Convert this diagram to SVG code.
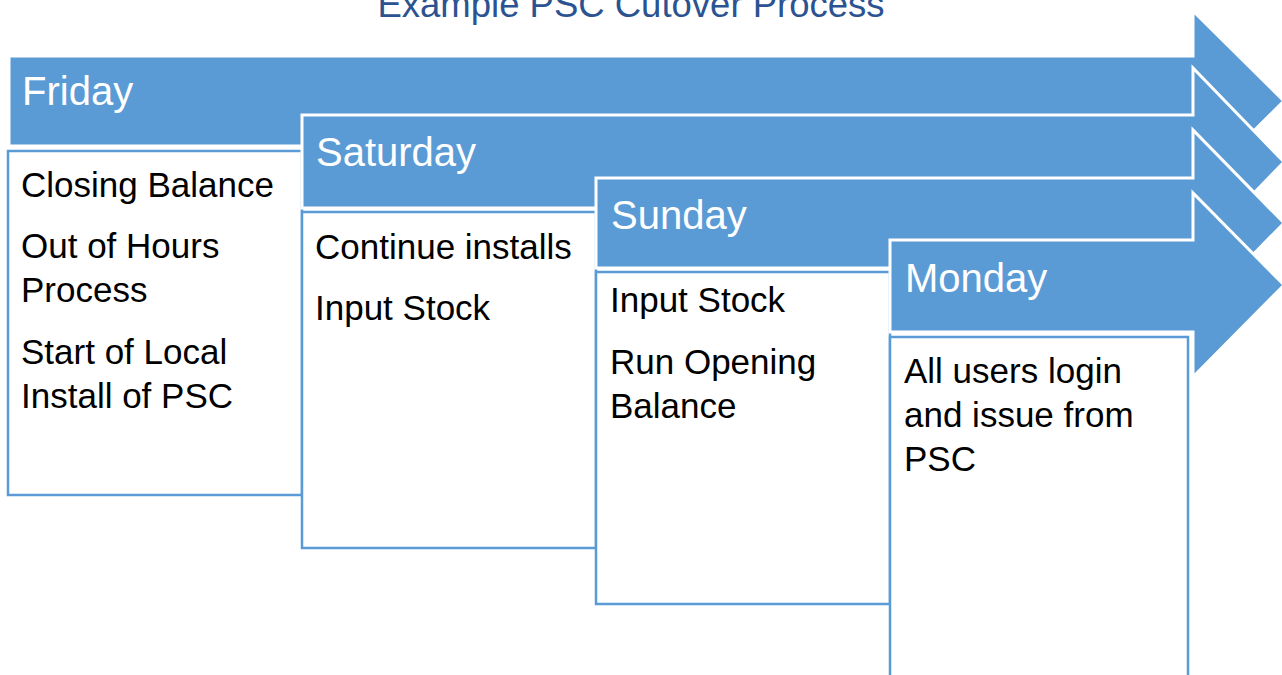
<svg xmlns="http://www.w3.org/2000/svg" width="1282" height="675" viewBox="0 0 1282 675">
  <style>
    .arrow { fill: #5B9BD5; stroke: #FFFFFF; stroke-width: 3; stroke-linejoin: miter; }
    .box { fill: #FFFFFF; stroke: #5B9BD5; stroke-width: 2.5; }
    .label { font-family: "Liberation Sans", Arial, sans-serif; font-size: 40px; fill: #FFFFFF; }
    .body { font-family: "Liberation Sans", Arial, sans-serif; font-size: 35px; fill: #000000; }
    .title { font-family: "Liberation Sans", Arial, sans-serif; font-size: 36.5px; fill: #2C5391; }
  </style>
  <rect width="1282" height="675" fill="#FFFFFF"/>
  <text class="title" x="631" y="17" text-anchor="middle">Example PSC Cutover Process</text>

  <g id="friday">
    <polygon class="arrow" points="9,56 1193,56 1193,11 1284,101 1193,191 1193,146 9,146"/>
    <text class="label" x="22" y="105">Friday</text>
    <rect class="box" x="8" y="151" width="294" height="344"/>
    <text class="body" x="21" y="197">Closing Balance</text>
    <text class="body" x="21" y="258">Out of Hours</text>
    <text class="body" x="21" y="302">Process</text>
    <text class="body" x="21" y="364">Start of Local</text>
    <text class="body" x="21" y="408">Install of PSC</text>
  </g>

  <g id="saturday">
    <polygon class="arrow" points="302,115 1193,115 1193,68 1284,162 1193,256 1193,208 302,208"/>
    <text class="label" x="316" y="166">Saturday</text>
    <rect class="box" x="302" y="212" width="294" height="336"/>
    <text class="body" x="315" y="259">Continue installs</text>
    <text class="body" x="315" y="320">Input Stock</text>
  </g>

  <g id="sunday">
    <polygon class="arrow" points="596,178 1193,178 1193,130 1284,223 1193,316 1193,268 596,268"/>
    <text class="label" x="611" y="229">Sunday</text>
    <rect class="box" x="596" y="272" width="294" height="332"/>
    <text class="body" x="610" y="312">Input Stock</text>
    <text class="body" x="610" y="374">Run Opening</text>
    <text class="body" x="610" y="418">Balance</text>
  </g>

  <g id="monday">
    <polygon class="arrow" points="890,240 1193,240 1193,193 1284,285 1193,377 1193,332 890,332"/>
    <text class="label" x="905" y="292">Monday</text>
    <rect class="box" x="890" y="337" width="298" height="350"/>
    <text class="body" x="904" y="383">All users login</text>
    <text class="body" x="904" y="427">and issue from</text>
    <text class="body" x="904" y="471">PSC</text>
  </g>

  <g id="connectors"/>
</svg>
